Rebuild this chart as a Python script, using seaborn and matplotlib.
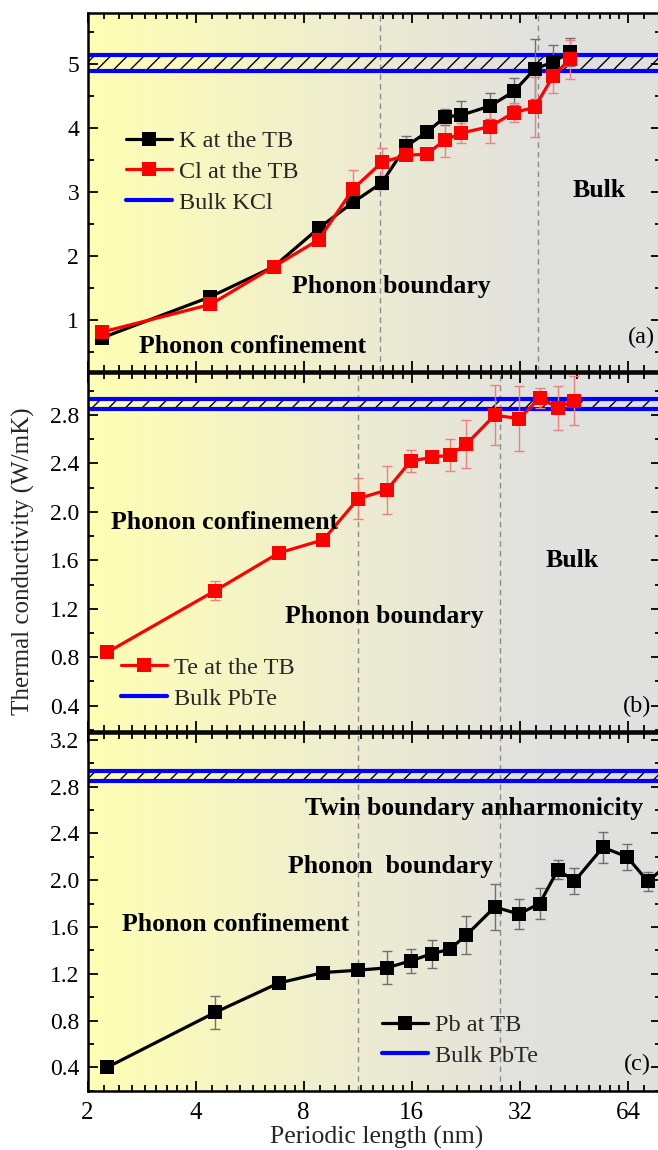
import numpy as np
import matplotlib
matplotlib.use("Agg")
import matplotlib.pyplot as plt
import seaborn as sns
from matplotlib.lines import Line2D
from matplotlib.colors import LinearSegmentedColormap
from matplotlib.ticker import (LogLocator, FixedLocator, MultipleLocator,
                               NullFormatter, FuncFormatter, FormatStrFormatter)

# ---------------- data ----------------
x_tick_vals = [2, 4, 8, 16, 32, 64]

# panel (a) KCl
x_a = [2.2, 4.4, 6.6, 8.8, 11.0, 13.2, 15.4, 17.6, 19.8, 22.0, 26.4, 30.8, 35.2, 39.6, 44.0]
k_tb = [0.72, 1.36, 1.83, 2.43, 2.84, 3.14, 3.71, 3.93, 4.17, 4.20, 4.34, 4.57, 4.92, 5.03, 5.18]
k_err = [0.03, 0.04, 0.04, 0.05, 0.08, 0.10, 0.17, 0.05, 0.13, 0.22, 0.20, 0.21, 0.47, 0.27, 0.22]
cl_tb = [0.81, 1.24, 1.83, 2.25, 3.05, 3.46, 3.57, 3.59, 3.81, 3.92, 4.02, 4.24, 4.32, 4.81, 5.07]
cl_err = [0.03, 0.04, 0.04, 0.05, 0.29, 0.22, 0.05, 0.06, 0.27, 0.15, 0.25, 0.15, 0.47, 0.26, 0.30]
bulk_kcl = [4.89, 5.14]
bounds_a = [13.05, 36.0]

# panel (b) PbTe, Te at TB
x_b = [2.27, 4.54, 6.81, 9.08, 11.35, 13.62, 15.89, 18.16, 20.43, 22.7,
       27.24, 31.78, 36.32, 40.86, 45.4]
te_tb = [0.84, 1.35, 1.66, 1.77, 2.11, 2.18, 2.42, 2.45, 2.47, 2.56, 2.80, 2.77, 2.94, 2.86, 2.92]
te_err = [0.02, 0.08, 0.02, 0.03, 0.17, 0.20, 0.09, 0.03, 0.13, 0.20, 0.25, 0.27, 0.08, 0.18, 0.20]
bulk_pbte = [2.85, 2.93]
bounds_bc = [11.3, 28.2]

# panel (c) PbTe, Pb at TB
x_c = [2.27, 4.54, 6.81, 9.08, 11.35, 13.62, 15.89, 18.16, 20.43, 22.7,
       27.24, 31.78, 36.32, 40.86, 45.4, 54.48, 63.56, 72.64, 81.72]
pb_tb = [0.40, 0.87, 1.12, 1.21, 1.23, 1.25, 1.31, 1.37, 1.41, 1.53,
         1.77, 1.71, 1.80, 2.09, 1.99, 2.28, 2.20, 1.99, 2.12]
pb_err = [0.02, 0.14, 0.03, 0.03, 0.03, 0.14, 0.10, 0.12, 0.03, 0.16,
          0.20, 0.13, 0.13, 0.08, 0.11, 0.13, 0.11, 0.08, 0.08]

# ---------------- style ----------------
sns.set_theme(style="ticks")
plt.rcParams["font.family"] = ["Liberation Serif", "DejaVu Serif"]
plt.rcParams["hatch.linewidth"] = 1.0
plt.rcParams["axes.edgecolor"] = "black"
plt.rcParams["xtick.color"] = "black"
plt.rcParams["ytick.color"] = "black"

FW, FH = 658, 1150
fig = plt.figure(figsize=(FW / 100, FH / 100), dpi=100)

L = 87.5 / FW
W = 573.5 / FW
positions = {
    "a": (L, 1 - 371 / FH, W, 358.3 / FH),
    "b": (L, 1 - 731 / FH, W, 358.3 / FH),
    "c": (L, 1 - 1090.7 / FH, W, 358.0 / FH),
}
XMAX = 2 ** (1 + 573.5 / 108.1)

bg_cmap = LinearSegmentedColormap.from_list(
    "bg", [(0.0, "#FFFFB4"), (0.45, "#EEEDD0"), (0.78, "#E1E1DE"), (1.0, "#E0E0E0")])

BLUE = "#0000FF"
RED = "#FF0000"
LABEL_SIZE = 18.5
LEG_SIZE = 17.5


def make_panel(key, ylim, major, minor, fmt, bottom_labels=False):
    bg = fig.add_axes(positions[key], zorder=0)
    bg.imshow(np.linspace(0, 1, 256)[None, :], cmap=bg_cmap, aspect="auto",
              extent=[0, 1, 0, 1], interpolation="bilinear")
    bg.axis("off")
    ax = fig.add_axes(positions[key], zorder=1)
    ax.patch.set_alpha(0)
    ax.set_xscale("log", base=2)
    ax.set_xlim(2, XMAX)
    ax.set_ylim(*ylim)
    ax.xaxis.set_major_locator(FixedLocator(x_tick_vals))
    ax.xaxis.set_major_formatter(FuncFormatter(lambda v, p: f"{int(round(v))}"))
    ax.xaxis.set_minor_locator(LogLocator(base=2, subs=1 + np.arange(1, 9) / 9, numticks=60))
    ax.xaxis.set_minor_formatter(NullFormatter())
    ax.yaxis.set_major_locator(MultipleLocator(major))
    ax.yaxis.set_minor_locator(MultipleLocator(minor))
    ax.yaxis.set_major_formatter(FormatStrFormatter(fmt))
    ax.tick_params(which="both", direction="in", top=True, right=True,
                   bottom=True, left=True, width=1.3, colors="black")
    ax.tick_params(which="major", length=7)
    ax.tick_params(which="minor", length=4)
    ax.tick_params(axis="y", labelsize=17, pad=6)
    ax.tick_params(axis="x", labelsize=18, pad=8, labelbottom=bottom_labels)
    for s in ax.spines.values():
        s.set_linewidth(1.8)
        s.set_color("black")
    ax.set_xlabel("")
    ax.set_ylabel("")
    return ax


def band(ax, lo_hi):
    lo, hi = lo_hi
    ax.axhspan(lo, hi, facecolor="none", edgecolor="black", hatch="//", lw=0, zorder=2)
    ax.axhline(lo, color=BLUE, lw=3, zorder=2.5)
    ax.axhline(hi, color=BLUE, lw=3, zorder=2.5)


def vlines(ax, xs):
    for xv in xs:
        ax.axvline(xv, color="#8C8C8C", lw=1, ls=(0, (4, 3)), zorder=1)


def series(ax, x, y, err, color, ecolor):
    ax.errorbar(x, y, yerr=err, fmt="none", ecolor=ecolor, elinewidth=1,
                capsize=3.5, capthick=1, zorder=3)
    sns.lineplot(x=x, y=y, ax=ax, color=color, lw=2.3, marker="s", markersize=9.5,
                 markeredgewidth=0, sort=False, errorbar=None, legend=False, zorder=4)


def legend(ax, items, anchor):
    handles = []
    for lab, col, mk in items:
        if mk:
            handles.append(Line2D([], [], color=col, lw=2.3, marker="s", markersize=9.5,
                                  markeredgewidth=0, label=lab))
        else:
            handles.append(Line2D([], [], color=col, lw=3, label=lab))
    ax.legend(handles=handles, loc="upper left", bbox_to_anchor=anchor, frameon=False,
              fontsize=LEG_SIZE, handlelength=1.9, handletextpad=0.3, labelspacing=0.36,
              borderpad=0, borderaxespad=0)


def label(ax, x, y, s, bold=True, size=LABEL_SIZE):
    ax.text(x, y, s, transform=ax.transAxes, ha="left", va="center", fontsize=size,
            fontweight="bold" if bold else "normal", color="black", zorder=6)


# ---------------- panel (a) ----------------
ax_a = make_panel("a", (0.2, 5.8), 1, 0.5, "%d")
vlines(ax_a, bounds_a)
band(ax_a, bulk_kcl)
series(ax_a, x_a, k_tb, k_err, "black", "#707070")
series(ax_a, x_a, cl_tb, cl_err, RED, "#F08080")
legend(ax_a, [("K at the TB", "black", True), ("Cl at the TB", RED, True),
              ("Bulk KCl", BLUE, False)], (0.067, 0.672))
label(ax_a, 0.0895, 0.068, "Phonon confinement")
label(ax_a, 0.357, 0.237, "Phonon boundary")
label(ax_a, 0.846, 0.503, "Bulk")
label(ax_a, 0.9425, 0.095, "(a)", bold=False, size=17.5)

# ---------------- panel (b) ----------------
ax_b = make_panel("b", (0.19, 3.15), 0.4, 0.2, "%.1f")
vlines(ax_b, bounds_bc)
band(ax_b, bulk_pbte)
series(ax_b, x_b, te_tb, te_err, RED, "#F08080")
legend(ax_b, [("Te at the TB", RED, True), ("Bulk PbTe", BLUE, False)], (0.058, 0.207))
label(ax_b, 0.041, 0.581, "Phonon confinement")
label(ax_b, 0.344, 0.319, "Phonon boundary")
label(ax_b, 0.7995, 0.475, "Bulk")
label(ax_b, 0.934, 0.068, "(b)", bold=False, size=17.5)

# ---------------- panel (c) ----------------
ax_c = make_panel("c", (0.2, 3.26), 0.4, 0.2, "%.1f", bottom_labels=True)
vlines(ax_c, bounds_bc)
band(ax_c, bulk_pbte)
series(ax_c, x_c, pb_tb, pb_err, "black", "#707070")
legend(ax_c, [("Pb at TB", "black", True), ("Bulk PbTe", BLUE, False)], (0.513, 0.214))
label(ax_c, 0.379, 0.789, "Twin boundary anharmonicity")
label(ax_c, 0.349, 0.626, "Phonon  boundary")
label(ax_c, 0.0607, 0.463, "Phonon confinement")
label(ax_c, 0.9345, 0.072, "(c)", bold=False, size=17.5)

fig.text(0.035, 0.512, "Thermal conductivity (W/mK)", rotation=90, ha="center",
         va="center", fontsize=18)
fig.text(0.573, 1 - 1143.5 / FH, "Periodic length (nm)", ha="center", va="baseline",
         fontsize=18.5)

fig.savefig("out.png", dpi=100)
